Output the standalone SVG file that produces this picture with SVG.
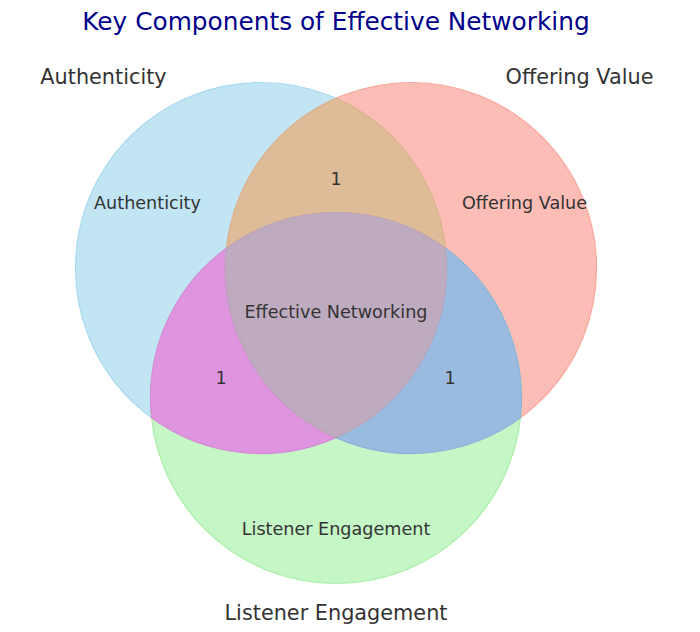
<svg xmlns="http://www.w3.org/2000/svg" width="700" height="632" viewBox="0 0 700 632">
<style>
text{font-family:"DejaVu Sans","Liberation Sans",sans-serif;fill:#333333;text-anchor:middle}
.title{fill:#00008B;font-size:24.8px}
.set{font-size:20.8px}
.in{font-size:17.6px}
.r{stroke-width:1.2}
</style>
<rect width="700" height="632" fill="#ffffff"/>
<g id="regions">
<g id="authenticity"><circle class="r" cx="261" cy="268" r="185.5" fill="#C2E5F4" stroke="#A8D9EF"/></g>
<g id="offering-value"><circle class="r" cx="411" cy="268" r="185.5" fill="#FCBDB6" stroke="#F8A69B"/></g>
<g id="listener-engagement"><circle class="r" cx="336" cy="398" r="185.5" fill="#C5F6C5" stroke="#A9EEA9"/></g>
<g id="ab"><path class="r" d="M336 98.34 A185.5 185.5 0 0 1 445.45 248.23 A185.5 185.5 0 0 0 226.55 248.23 A185.5 185.5 0 0 1 336 98.34 Z" fill="#DFBC98" stroke="#D9B38E"/></g>
<g id="ac"><path class="r" d="M151.55 417.77 A185.5 185.5 0 0 1 226.55 248.23 A185.5 185.5 0 0 0 336 437.66 A185.5 185.5 0 0 1 151.55 417.77 Z" fill="#DE94DE" stroke="#D68AD8"/></g>
<g id="bc"><path class="r" d="M520.45 417.77 A185.5 185.5 0 0 0 445.45 248.23 A185.5 185.5 0 0 1 336 437.66 A185.5 185.5 0 0 0 520.45 417.77 Z" fill="#9ABBE0" stroke="#90B2DA"/></g>
<g id="abc"><path class="r" d="M226.55 248.23 A185.5 185.5 0 0 1 445.45 248.23 A185.5 185.5 0 0 1 336 437.66 A185.5 185.5 0 0 1 226.55 248.23 Z" fill="#BFABC0" stroke="#BAA4BA"/></g>
</g>
<g id="labels">
<text class="title" x="336" y="30">Key Components of Effective Networking</text>
<text class="set" x="103.5" y="84">Authenticity</text>
<text class="set" x="579.5" y="84">Offering Value</text>
<text class="set" x="336" y="620">Listener Engagement</text>
<text class="in" x="147.5" y="209">Authenticity</text>
<text class="in" x="524.5" y="209">Offering Value</text>
<text class="in" x="336" y="185">1</text>
<text class="in" x="336" y="318">Effective Networking</text>
<text class="in" x="221" y="384">1</text>
<text class="in" x="450" y="384">1</text>
<text class="in" x="336" y="535">Listener Engagement</text>
</g>
</svg>
